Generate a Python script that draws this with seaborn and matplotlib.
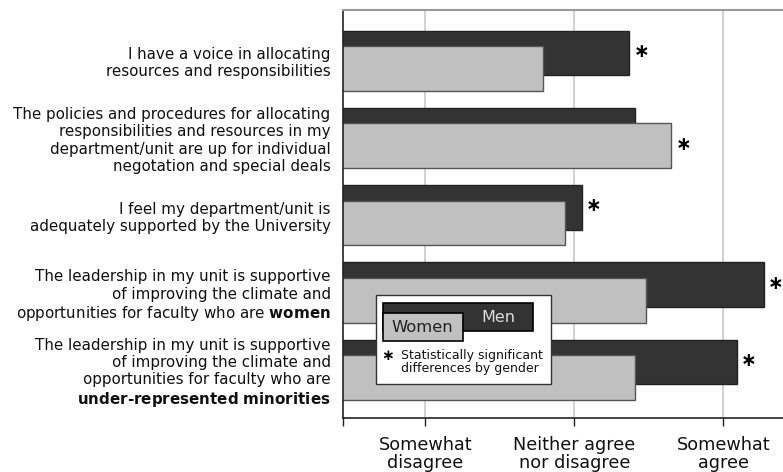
import matplotlib
matplotlib.use("Agg")
import matplotlib.pyplot as plt
import seaborn as sns
import pandas as pd
import numpy as np
from matplotlib.patches import Rectangle

# ---- data ----
items = [
    "I have a voice in allocating\nresources and responsibilities",
    "The policies and procedures for allocating\nresponsibilities and resources in my\ndepartment/unit are up for individual\nnegotation and special deals",
    "I feel my department/unit is\nadequately supported by the University",
    "The leadership in my unit is supportive\nof improving the climate and\nopportunities for faculty who are $\\bf{women}$",
    "The leadership in my unit is supportive\nof improving the climate and\nopportunities for faculty who are\n$\\bf{under\u2010represented\\ minorities}$",
]
men = [3.37, 3.41, 3.05, 4.27, 4.09]
women = [2.79, 3.65, 2.94, 3.48, 3.41]
significant = [True, True, True, True, True]
tick_values = [2, 3, 4]
tick_labels = ["Somewhat\ndisagree", "Neither agree\nnor disagree", "Somewhat\nagree"]
genders = ["Men", "Women"]

# ---- style ----
sns.set_style("white")
plt.rcParams["font.family"] = ["DejaVu Sans"]

MEN_C = "#333333"
WOMEN_C = "#c0c0c0"
offset = 0.10
bar_h = 0.58

idx = np.arange(len(items))
df = pd.DataFrame({
    "pos": np.concatenate([idx - offset, idx + offset]),
    "score": men + women,
    "gender": ["Men"] * len(items) + ["Women"] * len(items),
})

fig = plt.figure(figsize=(7.83, 4.72), dpi=100)
ax = fig.add_axes([343 / 783, 54 / 472, 440 / 783, 408 / 472])

for xv in tick_values:
    ax.axvline(xv, color="#c8c8c8", lw=1.2, zorder=0)

sns.barplot(data=df, x="score", y="pos", hue="gender", hue_order=genders,
            palette={"Men": MEN_C, "Women": WOMEN_C}, orient="h",
            native_scale=True, dodge=False, width=bar_h / (2 * offset),
            legend=False, edgecolor="#222222", linewidth=1.0, ax=ax, zorder=2)

for p in ax.patches:
    fc = p.get_facecolor()
    if fc[0] > 0.5:
        p.set_edgecolor("#555555")

ax.set_xlim(1.4477, 4.4007)
ax.set_ylim(4.626, -0.657)
ax.set_xticks(tick_values)
ax.set_xticklabels(tick_labels, fontsize=12.7, linespacing=1.0, color="#111111")
ax.set_xticks([1.4477], minor=True)
ax.tick_params(axis="x", which="both", length=6, width=1, color="#222222",
               pad=7, direction="out", bottom=True)
ax.set_yticks(idx)
ax.set_yticklabels(items, fontsize=10.9, linespacing=1.18, ha="right",
                   color="#111111")
ax.tick_params(axis="y", length=0, pad=9)
ax.set_xlabel("")
ax.set_ylabel("")

for s in ["left", "bottom"]:
    ax.spines[s].set_color("#222222")
    ax.spines[s].set_linewidth(1.2)
ax.spines["top"].set_color("#999999")
ax.spines["top"].set_linewidth(1.5)
ax.spines["right"].set_visible(False)

# significance markers
for i, (m, w, s) in enumerate(zip(men, women, significant)):
    if not s:
        continue
    if m >= w:
        xv, yv = m, i - offset
    else:
        xv, yv = w, i + offset
    ax.text(xv + 0.082, yv - 0.02, "∗", ha="center", va="center",
            fontsize=13.5, fontweight="bold", color="black", zorder=5,
            clip_on=False)

# custom legend
def fx(px):
    return px / 783
def fy(py):
    return 1 - py / 472

lg = Rectangle((fx(376), fy(384)), fx(551) - fx(376), fy(295) - fy(384),
               transform=fig.transFigure, facecolor="white", edgecolor="#333333",
               lw=1.0, zorder=10)
fig.add_artist(lg)
mp = Rectangle((fx(383), fy(331)), fx(533) - fx(383), fy(303) - fy(331),
               transform=fig.transFigure, facecolor=MEN_C, edgecolor="black",
               lw=1.2, zorder=11)
fig.add_artist(mp)
wp = Rectangle((fx(383), fy(341)), fx(463) - fx(383), fy(313) - fy(341),
               transform=fig.transFigure, facecolor=WOMEN_C, edgecolor="black",
               lw=1.2, zorder=12)
fig.add_artist(wp)
fig.text(fx(498), fy(317), "Men", ha="center", va="center", fontsize=11.5,
         color="#dddddd", zorder=13)
fig.text(fx(422), fy(328), "Women", ha="center", va="center", fontsize=11.8,
         color="#222222", zorder=13)
fig.text(fx(388), fy(356), "∗", ha="center", va="center", fontsize=11,
         fontweight="bold", color="black", zorder=13)
fig.text(fx(401), fy(362), "Statistically significant\ndifferences by gender",
         ha="left", va="center", fontsize=9.0, linespacing=1.05,
         color="#111111", zorder=13)

fig.savefig("out.png", dpi=100)
